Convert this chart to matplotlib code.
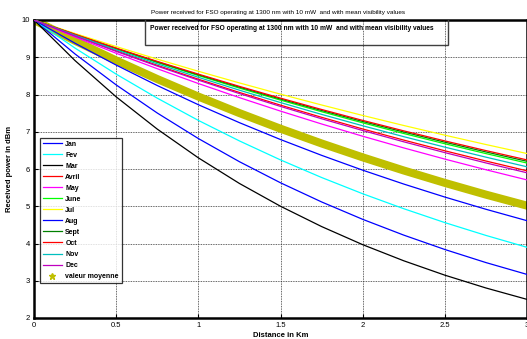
import matplotlib.pyplot as plt
from matplotlib.lines import Line2D

plt.rcParams['font.family'] = ['Liberation Sans', 'DejaVu Sans']

# distance in km
dist = [0, 0.25, 0.5, 0.75, 1, 1.25, 1.5, 1.75, 2, 2.25, 2.5, 2.75, 3]

# received power (dBm)
jan = [10, 9.087, 8.258, 7.503, 6.818, 6.196, 5.630, 5.116, 4.649, 4.225, 3.839, 3.488, 3.170]
fev = [10, 9.245, 8.547, 7.902, 7.305, 6.754, 6.244, 5.772, 5.336, 4.934, 4.561, 4.217, 3.898]
mar = [10, 8.909, 7.937, 7.071, 6.300, 5.612, 5.000, 4.455, 3.969, 3.536, 3.150, 2.806, 2.500]
avr = [10, 9.577, 9.171, 8.783, 8.411, 8.055, 7.714, 7.388, 7.075, 6.776, 6.489, 6.214, 5.951]
may = [10, 9.543, 9.107, 8.692, 8.295, 7.916, 7.554, 7.209, 6.880, 6.566, 6.266, 5.980, 5.707]
jun = [10, 9.604, 9.224, 8.859, 8.509, 8.172, 7.849, 7.538, 7.240, 6.953, 6.678, 6.414, 6.160]
jul = [10, 9.637, 9.287, 8.949, 8.624, 8.311, 8.009, 7.719, 7.438, 7.168, 6.908, 6.657, 6.415]
aug = [10, 9.375, 8.790, 8.241, 7.726, 7.244, 6.791, 6.367, 5.969, 5.596, 5.247, 4.919, 4.612]
sep = [10, 9.610, 9.236, 8.876, 8.530, 8.198, 7.878, 7.571, 7.276, 6.993, 6.720, 6.458, 6.207]
octo = [10, 9.615, 9.245, 8.889, 8.547, 8.218, 7.902, 7.598, 7.305, 7.024, 6.754, 6.494, 6.244]
nov = [10, 9.591, 9.199, 8.823, 8.462, 8.116, 7.784, 7.466, 7.161, 6.868, 6.587, 6.318, 6.059]
dec = [10, 9.570, 9.158, 8.763, 8.386, 8.025, 7.680, 7.349, 7.033, 6.730, 6.440, 6.163, 5.898]
mean = [10, 9.441, 8.914, 8.415, 7.945, 7.501, 7.082, 6.686, 6.313, 5.960, 5.627, 5.312, 5.016]

months = ["Jan", "Fev", "Mar", "Avril", "May", "June", "Jul", "Aug", "Sept", "Oct", "Nov", "Dec"]
series = [jan, fev, mar, avr, may, jun, jul, aug, sep, octo, nov, dec]
colors = ["#0000ff", "#00ffff", "#000000", "#ff0000", "#ff00ff", "#00ff00",
          "#ffff00", "#0000ff", "#008000", "#ff0000", "#00bfbf", "#bf00bf"]

title = "Power received for FSO operating at 1300 nm with 10 mW  and with mean visibility values"

fig = plt.figure(figsize=(5.27, 3.39), dpi=100)
ax = fig.add_axes([34 / 527, 21 / 339, 493 / 527, 298 / 339])

ax.plot(dist, mean, color="#bfbf00", lw=5.8, zorder=2)
handles = []
for name, ys, c in zip(months, series, colors):
    ax.plot(dist, ys, color=c, lw=0.9, zorder=3)
    handles.append(Line2D([], [], color=c, lw=0.9, label=name))
handles.append(Line2D([], [], color="#bfbf00", marker="*", ls="none", ms=5,
                      label="valeur moyenne"))

ax.set_xlim(0, 3)
ax.set_ylim(2, 10)
ax.set_xticks([0, 0.5, 1, 1.5, 2, 2.5, 3])
ax.set_xticklabels(["0", "0.5", "1", "1.5", "2", "2.5", "3"])
ax.set_yticks(range(2, 11))
ax.tick_params(direction="in", labelsize=5.5, length=3, width=0.8, pad=3)
ax.grid(True, color="#333333", ls=(0, (1, 1)), lw=0.6)
for s in ax.spines.values():
    s.set_linewidth(1.8)

ax.set_xlabel("Distance in Km", fontsize=5.5, fontweight="bold", labelpad=2)
ax.set_ylabel("Received power in dBm", fontsize=5.5, fontweight="bold", labelpad=6)
fig.text(0.528, 0.962, title, fontsize=4.6, ha="center", va="center")

ax.add_patch(plt.Rectangle((111 / 493, 0.916), 0.615, 0.1, transform=ax.transAxes,
                           fill=False, edgecolor="#404040", lw=1.0,
                           zorder=4, clip_on=True))
ax.text(116 / 493, 0.97, title, transform=ax.transAxes, fontsize=4.8, fontweight="bold",
        ha="left", va="center", zorder=5)

leg = ax.legend(handles=handles, loc="lower left", bbox_to_anchor=(0.012, 0.117),
                borderaxespad=0, prop={"weight": "bold", "size": 5},
                handlelength=2.7, handletextpad=0.5, labelspacing=0.58,
                frameon=True, fancybox=False, edgecolor="black", borderpad=0.45)
leg.get_frame().set_linewidth(0.9)

fig.savefig("out.png", dpi=100)
